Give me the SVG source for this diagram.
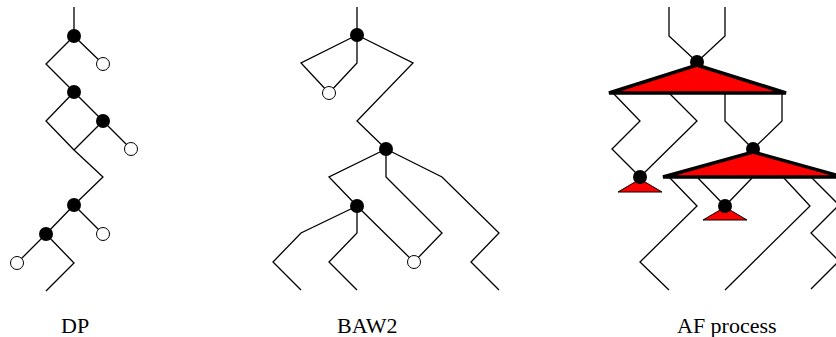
<svg xmlns="http://www.w3.org/2000/svg" width="836" height="337" viewBox="0 0 836 337">
<style>
.e{fill:none;stroke:#000;stroke-width:1.3;stroke-linejoin:miter}
.n{fill:#000}
.o{fill:#fff;stroke:#000;stroke-width:1}
.big{fill:#f00;stroke:#000;stroke-width:3.5}
.sm{fill:#f00;stroke:#000;stroke-width:1}
.lbl{font-family:"Liberation Serif","Times New Roman",serif;font-size:22px;fill:#000}
</style>
<rect width="836" height="337" fill="#fff"/>
<g id="connectors">
<path class="e" d="M74,7V36 M74,36L46,64L74,92 M74,36L103,64 M74,92L46,121L74,150L103,177L74,205 M74,92L103,121 M103,121L74,150 M103,121L131,149 M74,205L103,234 M74,205L46,234 M46,234L17,263 M46,234L74,263L46,291"/>
<path class="e" d="M357,7V35 M357,35L301,63L329,93 M357,35V63L329,93 M357,35L413,63L357,121L386,149 M386,149L329,177L357,206 M386,149V177L442,233L414,262 M386,149L442,177L499,233L471,262L499,290 M357,206L301,233L273,262L301,290 M357,206V233L329,262L357,290 M357,206L414,262"/>
<path class="e" d="M669,7V36L697,62 M725,7V36L697,62 M613,93L640,121L612,149L640,177 M669,93L697,121L640,177 M725,93V121L753,149 M782,93V121L753,149 M669,177L697,206L640,262L669,290 M697,177L725,206 M753,177L725,206 M783,177L810,206L725,290 M811,177L839,205L811,233L839,261L811,289"/>
</g>
<g id="dp">
<circle class="n" cx="74" cy="36" r="7"/>
<circle class="n" cx="74" cy="92" r="7"/>
<circle class="n" cx="103" cy="121" r="7"/>
<circle class="n" cx="74" cy="205" r="7"/>
<circle class="n" cx="46" cy="234" r="7"/>
<circle class="o" cx="103" cy="64" r="6.5"/>
<circle class="o" cx="131" cy="149" r="6.5"/>
<circle class="o" cx="103" cy="234" r="6.5"/>
<circle class="o" cx="17" cy="263" r="6.5"/>
</g>
<g id="baw2">
<circle class="n" cx="357" cy="35" r="7"/>
<circle class="n" cx="386" cy="149" r="7"/>
<circle class="n" cx="357" cy="206" r="7"/>
<circle class="o" cx="329" cy="93" r="6.5"/>
<circle class="o" cx="414" cy="262" r="6.5"/>
</g>
<g id="af">
<circle class="n" cx="697" cy="62" r="7"/>
<polygon class="big" points="609,93 697,65 786,93"/>
<polygon class="sm" points="618,192 640,179 662,192"/>
<circle class="n" cx="640" cy="177" r="7"/>
<circle class="n" cx="753" cy="149" r="7"/>
<polygon class="big" points="663,177 753,152 843,177"/>
<polygon class="sm" points="703,220 725,207 747,220"/>
<circle class="n" cx="725" cy="206" r="7"/>
</g>
<g id="labels">
<text class="lbl" x="61" y="333">DP</text>
<text class="lbl" x="337" y="333">BAW2</text>
<text class="lbl" x="677" y="333">AF process</text>
</g>
</svg>
